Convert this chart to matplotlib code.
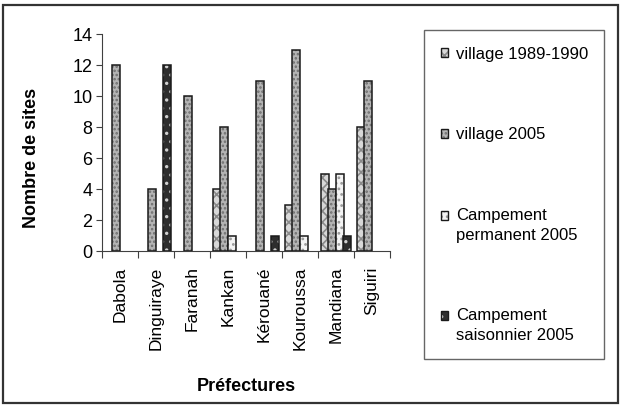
import numpy as np
import matplotlib.pyplot as plt
from matplotlib.patches import Rectangle, Patch
from matplotlib.legend_handler import HandlerTuple

plt.rcParams['font.family'] = ['Liberation Sans', 'DejaVu Sans']
plt.rcParams['hatch.linewidth'] = 1.2

prefectures = ['Dabola', 'Dinguiraye', 'Faranah', 'Kankan', 'Kérouané',
               'Kouroussa', 'Mandiana', 'Siguiri']
series_names = ['village 1989-1990', 'village 2005',
                'Campement\npermanent 2005', 'Campement\nsaisonnier 2005']
village_1989 = [0, 0, 0, 4, 0, 3, 5, 8]
village_2005 = [12, 4, 10, 8, 11, 13, 4, 11]
camp_permanent = [0, 0, 0, 1, 0, 1, 5, 0]
camp_saisonnier = [0, 12, 0, 0, 1, 0, 1, 0]
series = [village_1989, village_2005, camp_permanent, camp_saisonnier]

# face colour, hatch colour, hatch pattern per series
styles = [('#d8d8d8', '#8a8a8a', 'xxx'),
          ('#b4b4b4', '#6e6e6e', '....'),
          ('#f4f4f4', '#9a9a9a', '...'),
          ('#2e2e2e', '#d0d0d0', '..')]


class HandlerFirstLine(HandlerTuple):
    # put the key square next to the first line of a two-line label
    def create_artists(self, legend, orig_handle, xdescent, ydescent,
                       width, height, fontsize, trans):
        return super().create_artists(legend, orig_handle, xdescent,
                                      ydescent - 0.6 * fontsize, width, height,
                                      fontsize, trans)


fig = plt.figure(figsize=(6.2, 4.05), dpi=100)
ax = fig.add_axes([102 / 620, 1 - 251 / 405, 288 / 620, 217 / 405])

x = np.arange(len(prefectures))
step = 0.205
width = 0.225
handles = []
for i, (vals, (face, hcol, hatch)) in enumerate(zip(series, styles)):
    pos = x + (i - 1.5) * step
    ax.bar(pos, vals, width, color=face, edgecolor=hcol, hatch=hatch, linewidth=0)
    b2 = ax.bar(pos, vals, width, fill=False, edgecolor='#1a1a1a', linewidth=1.1)
    # empty categories get no flat outline on the axis
    for p, v in zip(b2.patches, vals):
        if v == 0:
            p.set_visible(False)
    handles.append((Patch(facecolor=face, edgecolor=hcol, hatch=hatch, linewidth=0),
                    Patch(fill=False, edgecolor='#1a1a1a', linewidth=1.0)))

ax.set_xlim(-0.5, len(prefectures) - 0.5)
ax.set_ylim(0, 14)
ax.set_yticks(range(0, 15, 2))
ax.set_xticks(np.arange(len(prefectures) + 1) - 0.5)
ax.set_xticklabels([])
ax.set_xticks(x, minor=True)
ax.set_xticklabels(prefectures, minor=True, rotation=90, va='top')
ax.tick_params(axis='x', which='minor', length=0, pad=11, labelsize=12.5)
ax.tick_params(axis='x', which='major', length=5, direction='out', color='#404040')
ax.tick_params(axis='y', length=4, direction='out', color='#404040', labelsize=13, pad=3)

for s in ['top', 'right']:
    ax.spines[s].set_visible(False)
for s in ['left', 'bottom']:
    ax.spines[s].set_color('#404040')

ax.set_ylabel('Nombre de sites', fontsize=13, fontweight='bold')
ax.yaxis.set_label_coords(-0.215, 0.43)
ax.set_xlabel('Préfectures', fontsize=13, fontweight='bold', labelpad=20)

hmap = {tuple: HandlerTuple(ndivide=1)}
for h, name in zip(handles, series_names):
    if '\n' in name:
        hmap[h] = HandlerFirstLine(ndivide=1)

leg = fig.legend(handles, series_names, loc='upper left',
                 bbox_to_anchor=(424 / 620, 1 - 30 / 405, 180 / 620, 0),
                 mode='expand', handler_map=hmap,
                 fontsize=12, handlelength=0.45, handleheight=0.45,
                 handletextpad=0.5, labelspacing=3.95, borderpad=1.0,
                 borderaxespad=0, fancybox=False, frameon=True)
for t in leg.get_texts():
    t.set_linespacing(1.35)
leg.get_frame().set_edgecolor('#404040')
leg.get_frame().set_linewidth(1.0)

# outer frame around the whole chart
fig.patches.append(Rectangle((3 / 620, 2 / 405), 615 / 620, 398 / 405,
                             transform=fig.transFigure, fill=False,
                             edgecolor='#333333', linewidth=1.6))

fig.savefig('out.png', dpi=100)
